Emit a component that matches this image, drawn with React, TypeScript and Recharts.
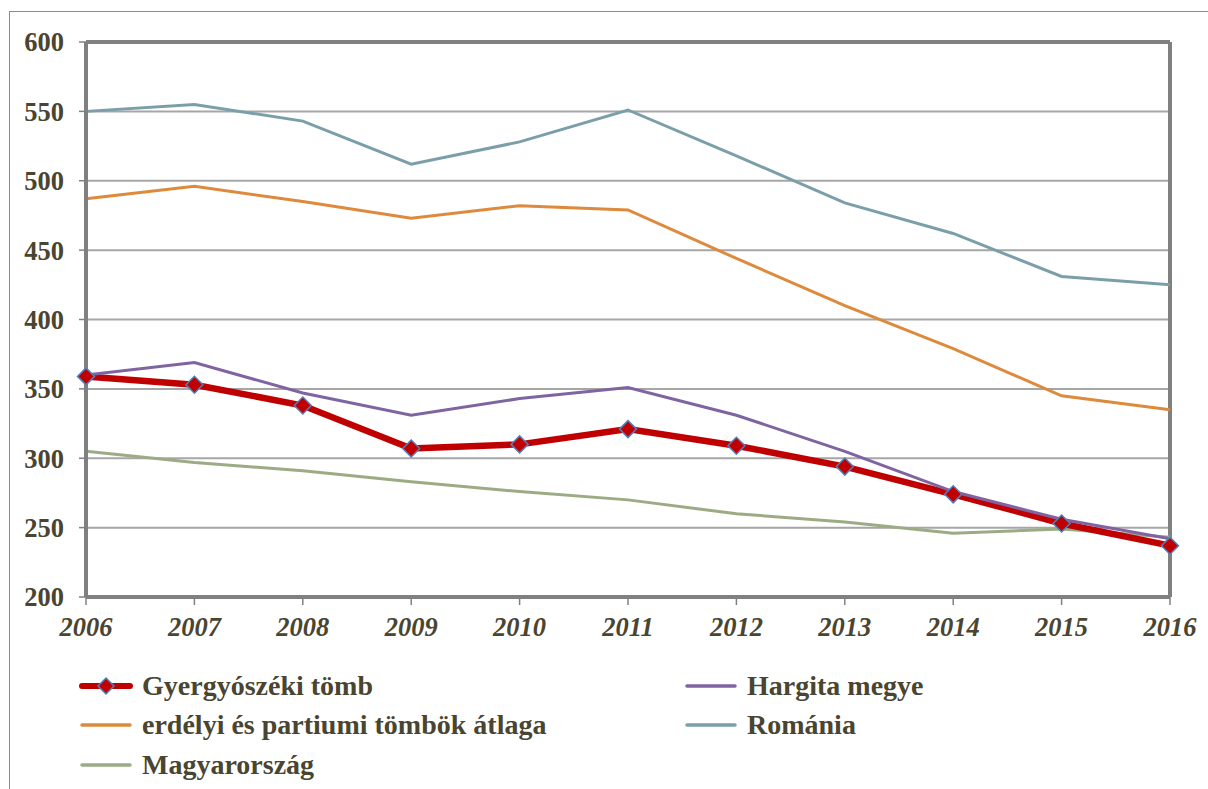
import React from 'react';
import { LineChart, Line, XAxis, YAxis, CartesianGrid, ReferenceLine } from 'recharts';

const years = [2006, 2007, 2008, 2009, 2010, 2011, 2012, 2013, 2014, 2015, 2016];
const gyergyo = [359, 353, 338, 307, 310, 321, 309, 294, 274, 253, 237];
const hargita = [360, 369, 347, 331, 343, 351, 331, 305, 276, 256, 242];
const erdelyi = [487, 496, 485, 473, 482, 479, 444, 410, 379, 345, 335];
const romania = [550, 555, 543, 512, 528, 551, 518, 484, 462, 431, 425];
const magyar = [305, 297, 291, 283, 276, 270, 260, 254, 246, 249, 243];
const yTicks = [200, 250, 300, 350, 400, 450, 500, 550, 600];
const minorTicks = Array.from({ length: 41 }, (_, i) => 200 + i * 10);

const data = years.map((y, i) => ({
  year: y,
  gyergyo: gyergyo[i],
  hargita: hargita[i],
  erdelyi: erdelyi[i],
  romania: romania[i],
  magyar: magyar[i],
}));

const TEXT = '#4a4530';
const FONT = '"Liberation Serif", "Times New Roman", serif';
const C_RED = '#c00000';
const C_PUR = '#8064a2';
const C_ORA = '#dd8a3c';
const C_ROM = '#7b9fa9';
const C_GRN = '#9bab84';

const Diamond = (props: any) => {
  const { cx, cy } = props;
  if (cx == null || cy == null) return null;
  const r = 8.5;
  return (
    <path
      d={`M${cx},${cy - r} L${cx + r},${cy} L${cx},${cy + r} L${cx - r},${cy} Z`}
      fill={C_RED}
      stroke="#4f81bd"
      strokeWidth={1.5}
    />
  );
};

const legendItems = [
  { label: 'Gyergyószéki tömb', color: C_RED, w: 6, marker: true, x: 82, y: 686 },
  { label: 'Hargita megye', color: C_PUR, w: 3.5, marker: false, x: 687, y: 686 },
  { label: 'erdélyi és partiumi tömbök átlaga', color: C_ORA, w: 3.5, marker: false, x: 82, y: 725 },
  { label: 'Románia', color: C_ROM, w: 3.5, marker: false, x: 687, y: 725 },
  { label: 'Magyarország', color: C_GRN, w: 3.5, marker: false, x: 82, y: 765 },
];

const LegendSvg = () => (
  <svg width={1208} height={789} style={{ position: 'absolute', left: 0, top: 0, pointerEvents: 'none' }}>
    {legendItems.map((it) => (
      <g key={it.label}>
        <line x1={it.x} x2={it.x + 48} y1={it.y} y2={it.y} stroke={it.color} strokeWidth={it.w} strokeLinecap="round" />
        {it.marker && (
          <path
            d={`M${it.x + 24},${it.y - 8} L${it.x + 32},${it.y} L${it.x + 24},${it.y + 8} L${it.x + 16},${it.y} Z`}
            fill={C_RED}
            stroke="#4f81bd"
            strokeWidth={1.5}
          />
        )}
        <text x={it.x + 60} y={it.y + 9} fill={TEXT} fontFamily={FONT} fontWeight="bold" fontSize={28}>
          {it.label}
        </text>
      </g>
    ))}
  </svg>
);

export default function App() {
  return (
    <div style={{ position: 'absolute', left: 0, top: 0, width: 1208, height: 789, overflow: 'hidden', background: '#fff' }}>
      <div style={{ position: 'absolute', left: 9, top: 11, width: 1400, height: 1000, border: '1px solid #8c8c8c' }} />
      <div style={{ position: 'absolute', left: 0, top: 0 }}>
        <LineChart width={1208} height={789} data={data} margin={{ top: 42, right: 38, left: 10, bottom: 142 }}>
          <CartesianGrid yAxisId="l" horizontal vertical={false} stroke="#a6a6a6" strokeWidth={2} />
          <XAxis
            dataKey="year"
            type="number"
            domain={[2006, 2016]}
            ticks={years}
            interval={0}
            height={50}
            axisLine={{ stroke: '#808080', strokeWidth: 4 }}
            tickLine={{ stroke: '#808080', strokeWidth: 1.5 }}
            tickSize={8}
            tickMargin={12}
            tick={{ fill: TEXT, fontFamily: FONT, fontWeight: 'bold', fontStyle: 'italic', fontSize: 26.5 }}
          />
          <YAxis
            yAxisId="l"
            domain={[200, 600]}
            ticks={yTicks}
            width={76}
            interval={0}
            axisLine={{ stroke: '#808080', strokeWidth: 4 }}
            tickLine={{ stroke: '#808080', strokeWidth: 1.5 }}
            tickSize={7}
            tickMargin={15}
            tick={{ fill: TEXT, fontFamily: FONT, fontWeight: 'bold', fontSize: 26.5 }}
          />
          <YAxis
            yAxisId="minor"
            domain={[200, 600]}
            ticks={minorTicks}
            interval={0}
            mirror
            axisLine={false}
            tickLine={{ stroke: '#808080', strokeWidth: 1.5 }}
            tickSize={6}
            tick={() => <g />}
          />
          <ReferenceLine yAxisId="l" y={600} stroke="#808080" strokeWidth={4} />
          <ReferenceLine yAxisId="l" x={2016} stroke="#808080" strokeWidth={4} />
          <Line yAxisId="l" dataKey="romania" stroke={C_ROM} strokeWidth={3} dot={false} isAnimationActive={false} />
          <Line yAxisId="l" dataKey="erdelyi" stroke={C_ORA} strokeWidth={3} dot={false} isAnimationActive={false} />
          <Line yAxisId="l" dataKey="magyar" stroke={C_GRN} strokeWidth={3} dot={false} isAnimationActive={false} />
          <Line yAxisId="l" dataKey="gyergyo" stroke={C_RED} strokeWidth={6.5} dot={<Diamond />} isAnimationActive={false} />
          <Line yAxisId="l" dataKey="hargita" stroke={C_PUR} strokeWidth={3} dot={false} isAnimationActive={false} />
        </LineChart>
      </div>
      <LegendSvg />
    </div>
  );
}
